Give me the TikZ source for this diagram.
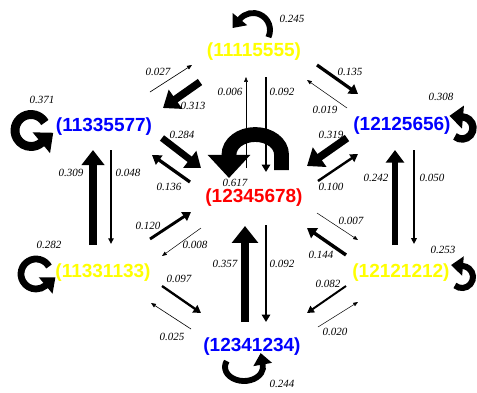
\documentclass[tikz,border=0pt]{standalone}
\usepackage{fontspec}
\setmainfont{Liberation Serif}
\setsansfont{Liberation Sans}
\usetikzlibrary{arrows.meta,calc}
\definecolor{cYel}{HTML}{FFFF00}
\definecolor{cBlu}{HTML}{0000FF}
\definecolor{cRed}{HTML}{FF0000}
\tikzset{
  state/.style={font=\sffamily\bfseries\fontsize{19}{19}\selectfont,inner sep=0pt},
  ynode/.style={state,text=cYel}, bnode/.style={state,text=cBlu}, rnode/.style={state,text=cRed},
  pnum/.style={font=\itshape\fontsize{11}{11}\selectfont,inner sep=0pt},
  flow/.style={line width={max(0.5,24*#1)},-{Triangle[length=4pt 1.5,width=2.3pt 2.7]}},
  lflow/.style={line width={24*#1},-{Triangle[length=4pt 1.3,width=3pt 2.6]}}}
\begin{document}
\begin{tikzpicture}[x=1pt,y=-1pt]
\useasboundingbox (0,0) rectangle (477,392);
% states
\node[ynode] (top)  at (254,52)  {(11115555)};
\node[bnode] (left) at (104,127) {(11335577)};
\node[bnode] (right) at (402,126) {(12125656)};
\node[rnode] (mid)  at (254,198) {(12345678)};
\node[ynode] (botL) at (103,273) {(11331133)};
\node[ynode] (botR) at (401,273) {(12121212)};
\node[bnode] (bot)  at (252,347) {(12341234)};
% transitions
\draw[flow=.313] ([shift={(-54,30)}]top.center) -- ([shift={(59,-19)}]left.center);
\draw[flow=.027] ([shift={(46,-35)}]left.center) -- ([shift={(-62,13)}]top.center);
\draw[flow=.284] ([shift={(58,11)}]left.center) -- ([shift={(-53,-30)}]mid.center);
\draw[flow=.136] ([shift={(-64,-16)}]mid.center) -- ([shift={(48,28)}]left.center);
\draw[flow=.006] ([shift={(-8,-30)}]mid.center) -- ([shift={(-8,25)}]top.center);
\draw[flow=.092] ([shift={(12,25)}]top.center) -- ([shift={(12,-26)}]mid.center);
\draw[flow=.135] ([shift={(63,13)}]top.center) -- ([shift={(-44,-32)}]right.center);
\draw[flow=.019] ([shift={(-55,-18)}]right.center) -- ([shift={(53,28)}]top.center);
\draw[flow=.319] ([shift={(-55,12)}]right.center) -- ([shift={(53,-32)}]mid.center);
\draw[flow=.100] ([shift={(64,-17)}]mid.center) -- ([shift={(-44,28)}]right.center);
\draw[flow=.309] ([shift={(-10,-28)}]botL.center) -- ([shift={(-11,23)}]left.center);
\draw[flow=.048] ([shift={(7,23)}]left.center) -- ([shift={(8,-29)}]botL.center);
\draw[flow=.242] ([shift={(-6,-28)}]botR.center) -- ([shift={(-7,24)}]right.center);
\draw[flow=.050] ([shift={(12,24)}]right.center) -- ([shift={(13,-29)}]botR.center);
\draw[flow=.120] ([shift={(47,-34)}]botL.center) -- ([shift={(-63,14)}]mid.center);
\draw[flow=.008] ([shift={(-53,30)}]mid.center) -- ([shift={(59,-17)}]botL.center);
\draw[flow=.097] ([shift={(59,13)}]botL.center) -- ([shift={(-51,-34)}]bot.center);
\draw[flow=.025] ([shift={(-61,-18)}]bot.center) -- ([shift={(48,30)}]botL.center);
\draw[flow=.357] ([shift={(-7,-25)}]bot.center) -- ([shift={(-9,28)}]mid.center);
\draw[flow=.092] ([shift={(12,27)}]mid.center) -- ([shift={(14,-25)}]bot.center);
\draw[flow=.007] ([shift={(63,15)}]mid.center) -- ([shift={(-43,-33)}]botR.center);
\draw[flow=.144] ([shift={(-55,-18)}]botR.center) -- ([shift={(53,30)}]mid.center);
\draw[flow=.082] ([shift={(-55,13)}]botR.center) -- ([shift={(55,-34)}]bot.center);
\draw[flow=.020] ([shift={(66,-20)}]bot.center) -- ([shift={(-43,29)}]botR.center);
% self loops
\draw[lflow=.245] ([shift={(-1,-22)}]top.center) ++(25:17) arc[start angle=25,end angle=-140,radius=17] -- ++(-230:11.7);
\draw[lflow=.617] ([shift={(27.5,-28)}]mid.center) -- ++(0,-15.5) arc[start angle=0,end angle=-180,x radius=26.25,y radius=20] -- ++(0,23.5);
\draw[lflow=.371] ([shift={(-73,3.5)}]left.center) ++(-30:16) arc[start angle=-30,end angle=-310,radius=16] -- ++(-40:15.6);
\draw[lflow=.282] ([shift={(-67,1)}]botL.center) ++(-30:15) arc[start angle=-30,end angle=-310,radius=15] -- ++(-40:12.8);
\draw[lflow=.308] ([shift={(60,2)}]right.center) ++(130:11) arc[start angle=130,end angle=-85,radius=11] -- ++(-175:13.6);
\draw[lflow=.253] ([shift={(61,4)}]botR.center) ++(130:11) arc[start angle=130,end angle=-85,radius=11] -- ++(-175:11.9);
\draw[lflow=.244] ([shift={(-8,20)}]bot.center) ++(205:19 and 14) arc[start angle=205,end angle=-10,x radius=19,y radius=14] -- ++(-100:11.7);
% probabilities
\node[pnum] (p027) at (158,72)  {0.027};
\node[pnum] (p313) at (193,106) {0.313};
\node[pnum] (p284) at (182,135) {0.284};
\node[pnum] (p136) at (169,187) {0.136};
\node[pnum] (p371) at (42,100)  {0.371};
\node[pnum] (p309) at (71,173)  {0.309};
\node[pnum] (p048) at (128,173) {0.048};
\node[pnum] (p006) at (230,92)  {0.006};
\node[pnum] (p092t) at (282,92) {0.092};
\node[pnum] (p617) at (235,183) {0.617};
\node[pnum] (p245) at (292,19)  {0.245};
\node[pnum] (p135) at (350,72)  {0.135};
\node[pnum] (p019) at (325,110) {0.019};
\node[pnum] (p319) at (331,135) {0.319};
\node[pnum] (p100) at (331,187) {0.100};
\node[pnum] (p308) at (441,97)  {0.308};
\node[pnum] (p242) at (376,178) {0.242};
\node[pnum] (p050) at (432,178) {0.050};
\node[pnum] (p282) at (49,245)  {0.282};
\node[pnum] (p120) at (148,226) {0.120};
\node[pnum] (p008) at (195,245) {0.008};
\node[pnum] (p097) at (179,279) {0.097};
\node[pnum] (p025) at (172,337) {0.025};
\node[pnum] (p357) at (225,264) {0.357};
\node[pnum] (p092b) at (282,264) {0.092};
\node[pnum] (p007) at (351,221) {0.007};
\node[pnum] (p144) at (321,255) {0.144};
\node[pnum] (p082) at (328,284) {0.082};
\node[pnum] (p020) at (335,332) {0.020};
\node[pnum] (p253) at (443,250) {0.253};
\node[pnum] (p244) at (282,384) {0.244};
\end{tikzpicture}
\end{document}
